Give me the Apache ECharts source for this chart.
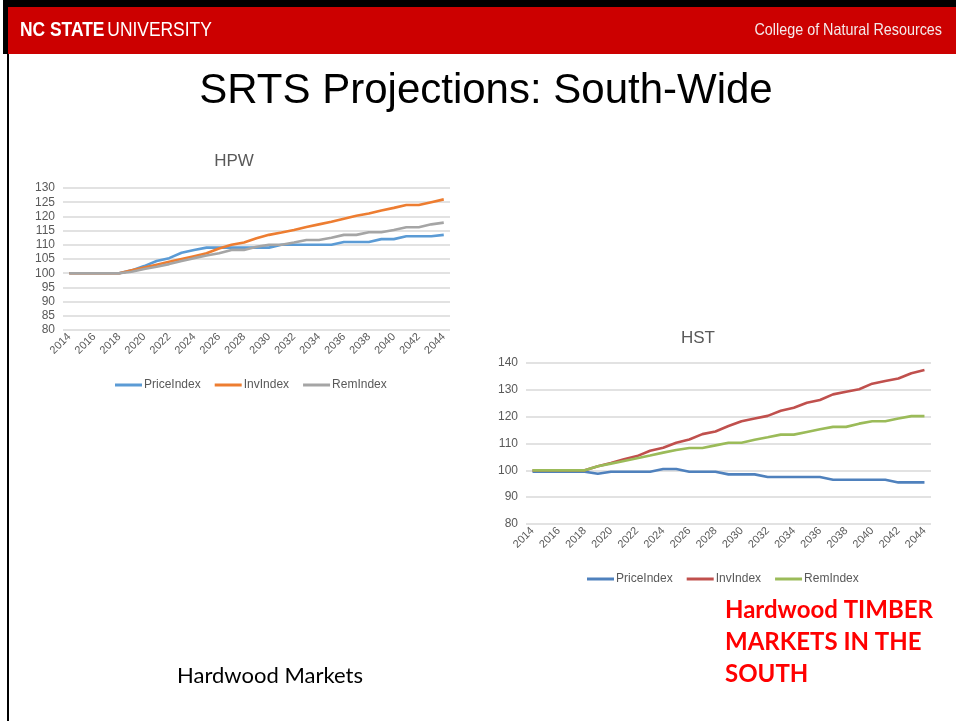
<!DOCTYPE html>
<html><head><meta charset="utf-8">
<script src="https://cdn.jsdelivr.net/npm/echarts@6/dist/echarts.min.js"></script>
<style>html,body{margin:0;padding:0;background:#fff;overflow:hidden}#c{width:956px;height:721px;}</style>
</head><body><div id="c"></div>
<script>
const years = ['2014','2015','2016','2017','2018','2019','2020','2021','2022','2023','2024','2025','2026','2027','2028','2029','2030','2031','2032','2033','2034','2035','2036','2037','2038','2039','2040','2041','2042','2043','2044'];
const seriesNames = ['PriceIndex','InvIndex','RemIndex'];
// HPW
const hpwPrice = [100,100,100,100,100,101,102.5,104.3,105.3,107.2,108.2,109,109,109,109,109,109,110,110,110,110,110,111,111,111,112,112,113,113,113,113.5];
const hpwInv   = [100,100,100,100,100,101,102,103,104,105,106,107,108.7,110,110.8,112.3,113.5,114.3,115.2,116.3,117.2,118.1,119.2,120.2,121,122.1,123,124,124,125,126];
const hpwRem   = [100,100,100,100,100,100.5,101.5,102.3,103.2,104.3,105.3,106.2,107,108.2,108.2,109.3,110,110,110.8,111.7,111.7,112.5,113.5,113.5,114.4,114.4,115.2,116.2,116.2,117.2,117.8];
// HST
const hstPrice = [99.5,99.5,99.5,99.5,99.5,98.7,99.5,99.5,99.5,99.5,100.5,100.5,99.5,99.5,99.5,98.5,98.5,98.5,97.5,97.5,97.5,97.5,97.5,96.5,96.5,96.5,96.5,96.5,95.5,95.5,95.5];
const hstInv   = [100,100,100,100,100,101.5,102.7,104.1,105.3,107.3,108.4,110.3,111.5,113.5,114.5,116.5,118.3,119.3,120.3,122.2,123.3,125.2,126.2,128.3,129.3,130.2,132.3,133.3,134.2,136.2,137.4];
const hstRem   = [100,100,100,100,100,101.5,102.5,103.5,104.5,105.5,106.6,107.6,108.3,108.3,109.3,110.3,110.3,111.4,112.3,113.3,113.3,114.3,115.3,116.2,116.2,117.4,118.3,118.3,119.3,120.2,120.2];
const hpwTicks = {min:80, max:130, interval:5};
const hstTicks = {min:80, max:140, interval:10};
const hpwColors = ['#5B9BD5','#ED7D31','#A5A5A5'];
const hstColors = ['#4F81BD','#C0504D','#9BBB59'];

const chart = echarts.init(document.getElementById('c'), null, {renderer:'canvas'});
const grayTxt = '#595959';
const fam = "'Liberation Sans', Arial, sans-serif";
function xAxis(gi){
  return {type:'category', gridIndex:gi, data:years, boundaryGap:true,
    axisLine:{show:false}, axisTick:{show:false}, splitLine:{show:false},
    axisLabel:{interval:1, rotate:45, fontSize:11, color:grayTxt, fontFamily:fam, margin:5}};
}
function yAxis(gi,t){
  return {type:'value', gridIndex:gi, min:t.min, max:t.max, interval:t.interval,
    axisLine:{show:false}, axisTick:{show:false},
    splitLine:{show:true, lineStyle:{color:'#d9d9d9', width:1.5}},
    axisLabel:{fontSize:12, color:grayTxt, fontFamily:fam, margin:8}};
}
function line(name, data, color, gi){
  return {type:'line', name:name, xAxisIndex:gi, yAxisIndex:gi, data:data, showSymbol:false, symbol:'none',
    lineStyle:{color:color, width:2.6}, itemStyle:{color:color}, animation:false};
}
const hpwData = [hpwPrice, hpwInv, hpwRem];
const hstData = [hstPrice, hstInv, hstRem];
const series = [];
seriesNames.forEach((n,i)=>series.push(line('HPW|'+n, hpwData[i], hpwColors[i], 0)));
seriesNames.forEach((n,i)=>series.push(line('HST|'+n, hstData[i], hstColors[i], 1)));

const option = {
  animation:false,
  backgroundColor:'#ffffff',
  title:[
    {text:'HPW', left:229, top:148, textAlign:'center', textStyle:{fontSize:17, fontWeight:'normal', color:grayTxt, fontFamily:fam}},
    {text:'HST', left:693, top:325, textAlign:'center', textStyle:{fontSize:17, fontWeight:'normal', color:grayTxt, fontFamily:fam}}
  ],
  grid:[
    {left:63, top:188, width:387, height:142},
    {left:526, top:363, width:405, height:161}
  ],
  xAxis:[xAxis(0), xAxis(1)],
  yAxis:[yAxis(0,hpwTicks), yAxis(1,hstTicks)],
  legend:[
    {data:seriesNames.map(n=>'HPW|'+n), left:110, top:374, icon:'rect', itemWidth:27, itemHeight:3, itemGap:14,
     formatter:n=>n.split('|')[1], textStyle:{fontSize:12, color:grayTxt, fontFamily:fam, padding:[0,0,0,-3]}},
    {data:seriesNames.map(n=>'HST|'+n), left:582, top:568, icon:'rect', itemWidth:27, itemHeight:3, itemGap:14,
     formatter:n=>n.split('|')[1], textStyle:{fontSize:12, color:grayTxt, fontFamily:fam, padding:[0,0,0,-3]}}
  ],
  series:series,
  graphic:[
    {type:'rect', shape:{x:3,y:0,width:953,height:7}, style:{fill:'#000'}, silent:true},
    {type:'rect', shape:{x:3,y:0,width:5,height:54}, style:{fill:'#000'}, silent:true},
    {type:'rect', shape:{x:7,y:0,width:2,height:721}, style:{fill:'#000'}, silent:true},
    {type:'rect', shape:{x:8,y:7,width:948,height:47}, style:{fill:'#CC0000'}, silent:true},
    {type:'text', x:20, y:30, scaleX:0.87, style:{text:'{b|NC STATE} {r|UNIVERSITY}', textVerticalAlign:'middle',
      rich:{b:{fontSize:20, fontWeight:'bold', fill:'#fff', fontFamily:fam},
            r:{fontSize:20, fill:'#fff', fontFamily:fam}}}},
    {type:'text', x:942, y:30, scaleX:0.87, style:{text:'College of Natural Resources', textAlign:'right', textVerticalAlign:'middle',
      fontSize:16.5, fill:'#f4eaea', fontFamily:fam}},
    {type:'text', x:486, y:91, style:{text:'SRTS Projections: South-Wide', textAlign:'center', textVerticalAlign:'middle',
      fontSize:42, fill:'#000', fontFamily:fam}},
    {type:'text', x:270, y:676, style:{text:'Hardwood Markets', textAlign:'center', textVerticalAlign:'middle',
      fontSize:22, fill:'#000', fontFamily:"Lato, 'Open Sans', sans-serif"}},
    {type:'text', x:725, y:594, style:{text:'Hardwood TIMBER\nMARKETS IN THE\nSOUTH', textAlign:'left', textVerticalAlign:'top',
      fontSize:24, fontWeight:'bold', lineHeight:32, fill:'#FF0000', fontFamily:"Lato, 'Open Sans', sans-serif"}}
  ]
};
chart.setOption(option);
</script>
</body></html>
